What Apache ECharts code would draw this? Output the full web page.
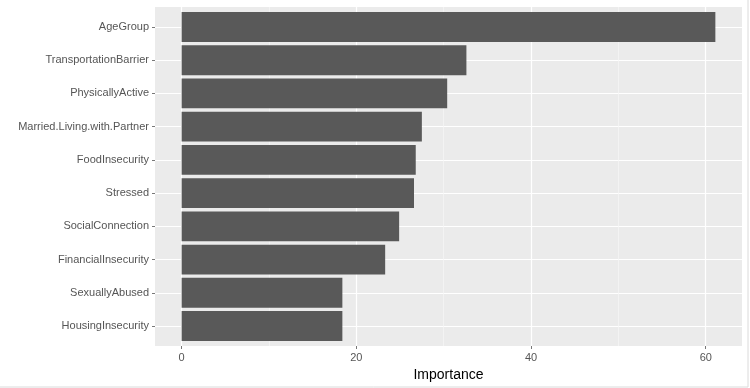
<!DOCTYPE html>
<html>
<head>
<meta charset="utf-8">
<script src="https://cdn.jsdelivr.net/npm/echarts@6/dist/echarts.min.js"></script>
<style>
  html, body { margin: 0; padding: 0; background: #fff; }
  #chart { width: 750px; height: 388px; }
</style>
</head>
<body>
<div id="chart"></div>
<script>
// variable importance, top to bottom
var features = ['AgeGroup', 'TransportationBarrier', 'PhysicallyActive', 'Married.Living.with.Partner',
    'FoodInsecurity', 'Stressed', 'SocialConnection', 'FinancialInsecurity', 'SexuallyAbused', 'HousingInsecurity'];
var importance = [61.1, 32.6, 30.4, 27.5, 26.8, 26.6, 24.9, 23.3, 18.4, 18.4];
var majorTicks = [0, 20, 40, 60];
var minorTicks = [10, 30, 50];

// ggplot style limits: 5% expansion of the data range
var xMin = -3.05;
var xMax = 64.15;

var panelTop = 7, panelBottom = 42, panelLeft = 155, panelRight = 8;
var band = (388 - panelTop - panelBottom) / (features.length + 0.2);
var pad = band * 0.1;

var labelFont = 'Liberation Sans, Arial, sans-serif';

var chart = echarts.init(document.getElementById('chart'));

var option = {
    backgroundColor: '#fff',
    animation: false,
    graphic: [{
        type: 'rect', silent: true,
        shape: { x: -1, y: -1, width: 749, height: 388 },
        style: { fill: 'none', stroke: '#DADADA', lineWidth: 1 }
    }],
    grid: [
        // panel
        { left: panelLeft, right: panelRight, top: panelTop, bottom: panelBottom,
          show: true, backgroundColor: '#EBEBEB', borderWidth: 0 },
        // bars
        { left: panelLeft, right: panelRight, top: panelTop + pad, bottom: panelBottom + pad },
        // horizontal grid lines + y labels
        { left: panelLeft, right: panelRight, top: panelTop + pad + band / 2, bottom: panelBottom + pad + band / 2 }
    ],
    xAxis: [
        {
            gridIndex: 0, type: 'value', min: xMin, max: xMax,
            name: 'Importance', nameLocation: 'middle', nameGap: 21,
            nameTextStyle: { color: '#000', fontSize: 14, fontFamily: labelFont },
            axisLine: { show: false, onZero: false },
            axisTick: { show: true, length: 3, lineStyle: { color: '#777', width: 1 }, customValues: majorTicks },
            axisLabel: { color: '#555', fontSize: 11, fontFamily: labelFont, margin: 6, customValues: majorTicks },
            splitLine: { show: true, lineStyle: { color: '#fff', width: 1.2 } }
        },
        {
            gridIndex: 0, type: 'value', min: xMin, max: xMax, position: 'bottom',
            axisLine: { show: false, onZero: false },
            axisTick: { show: false, customValues: minorTicks },
            axisLabel: { show: false },
            splitLine: { show: true, lineStyle: { color: '#F6F6F6', width: 0.7 } }
        },
        {
            gridIndex: 1, type: 'value', min: xMin, max: xMax,
            axisLine: { show: false, onZero: false }, axisTick: { show: false }, axisLabel: { show: false }, splitLine: { show: false }
        },
        {
            gridIndex: 2, type: 'value', min: xMin, max: xMax,
            axisLine: { show: false, onZero: false }, axisTick: { show: false }, axisLabel: { show: false }, splitLine: { show: false }
        }
    ],
    yAxis: [
        {
            gridIndex: 0, type: 'value', min: 0, max: 1,
            axisLine: { show: false, onZero: false }, axisTick: { show: false }, axisLabel: { show: false }, splitLine: { show: false }
        },
        {
            gridIndex: 1, type: 'category', data: features, inverse: true,
            axisLine: { show: false, onZero: false }, axisTick: { show: false }, axisLabel: { show: false }, splitLine: { show: false }
        },
        {
            gridIndex: 2, type: 'category', data: features, inverse: true, boundaryGap: false,
            axisLine: { show: false, onZero: false },
            axisTick: { show: true, length: 3, lineStyle: { color: '#777', width: 1 } },
            axisLabel: { color: '#555', fontSize: 11, fontFamily: labelFont, margin: 6, interval: 0 },
            splitLine: { show: true, interval: 0, lineStyle: { color: '#fff', width: 1.2 } }
        }
    ],
    series: [
        {
            type: 'bar',
            xAxisIndex: 2,
            yAxisIndex: 1,
            data: importance,
            barCategoryGap: '10%',
            itemStyle: { color: '#595959' },
            z: 5
        }
    ]
};

chart.setOption(option);
</script>
</body>
</html>
